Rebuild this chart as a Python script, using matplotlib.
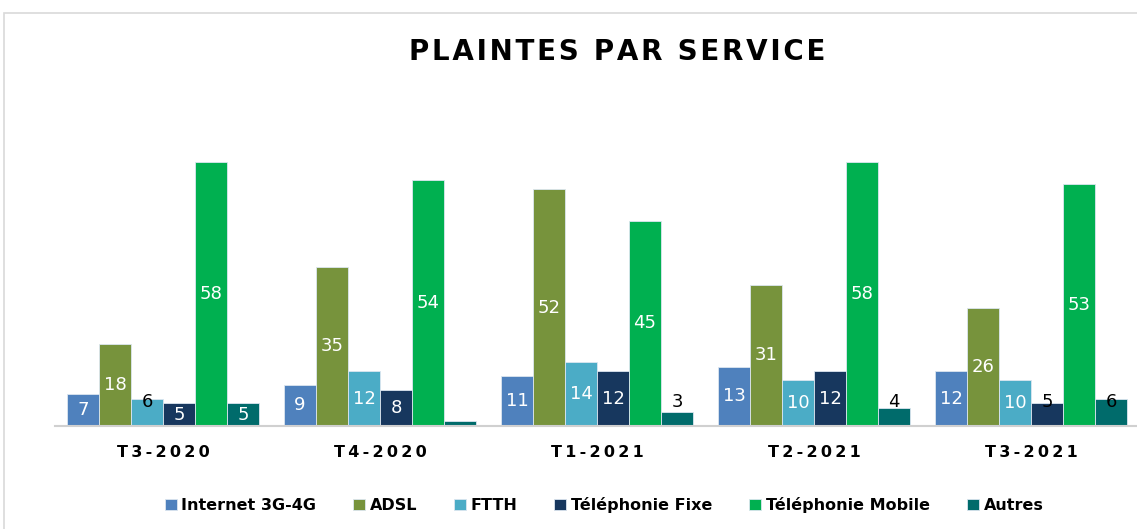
import numpy as np
import matplotlib
matplotlib.use('Agg')
import matplotlib.pyplot as plt
from matplotlib.patches import Rectangle

quarters = ['T3-2020', 'T4-2020', 'T1-2021', 'T2-2021', 'T3-2021']
services = ['Internet 3G-4G', 'ADSL', 'FTTH', 'Téléphonie Fixe', 'Téléphonie Mobile', 'Autres']
internet = [7, 9, 11, 13, 12]
adsl = [18, 35, 52, 31, 26]
ftth = [6, 12, 14, 10, 10]
fixe = [5, 8, 12, 12, 5]
mobile = [58, 54, 45, 58, 53]
autres = [5, 1, 3, 4, 6]

series = [internet, adsl, ftth, fixe, mobile, autres]
colors = ['#4F81BD', '#77933C', '#4BACC6', '#17375E', '#00B050', '#006B6B']

# labels drawn in black (outside / overflowing the bar) and hidden ones
black = {(2, 0), (5, 2), (5, 3), (3, 4), (5, 4)}
hidden = {(5, 1)}

plt.rcParams['font.family'] = ['DejaVu Sans']

fig = plt.figure(figsize=(11.37, 5.29), dpi=100)
W, H = 1137, 529
ax = fig.add_axes([54.5 / W, 1 - 426 / H, 1085 / W, 319 / H])

# light frame around the chart area
fig.patches.append(Rectangle((4 / W, -0.1), 1.2, 1 - 13 / H + 0.1, transform=fig.transFigure,
                             fill=False, edgecolor='#d9d9d9', linewidth=1.2))

x = np.arange(len(quarters))
bw = 0.1475
for i, (vals, c) in enumerate(zip(series, colors)):
    pos = x + (i - 2.5) * bw
    ax.bar(pos, vals, width=bw, color=c, edgecolor='#dce6f0', linewidth=0.6,
           label=services[i], zorder=2)
    for j, v in enumerate(vals):
        if (i, j) in hidden:
            continue
        if (i, j) in black:
            ax.text(pos[j], max(v / 2, 5.3), str(v), ha='center', va='center',
                    fontsize=13, color='black', zorder=3)
        else:
            ax.text(pos[j], v / 2, str(v), ha='center', va='center',
                    fontsize=13, color='white', zorder=3)

ax.set_xlim(-0.5, 4.5)
ax.set_ylim(0, 70)
ax.set_yticks([])
ax.set_xticks(x)
ax.set_xticklabels(['\u2009'.join(q) for q in quarters], fontsize=11.5, fontweight='bold')
ax.tick_params(axis='x', length=0, pad=14)
for s in ['top', 'right', 'left']:
    ax.spines[s].set_visible(False)
ax.spines['bottom'].set_color('#d0d0d0')
ax.spines['bottom'].set_linewidth(1.5)

fig.text(617 / W, 1 - 52 / H, '\u200a'.join('PLAINTES PAR SERVICE'), ha='center', va='center',
         fontsize=20, fontweight='bold')

fig.legend(loc='center', bbox_to_anchor=(604 / W, 1 - 505 / H), ncol=6, frameon=False,
           prop={'weight': 'bold', 'size': 11.5}, handlelength=0.75, handleheight=0.75,
           handletextpad=0.3, columnspacing=2.3)

fig.savefig('out.png', dpi=100)
